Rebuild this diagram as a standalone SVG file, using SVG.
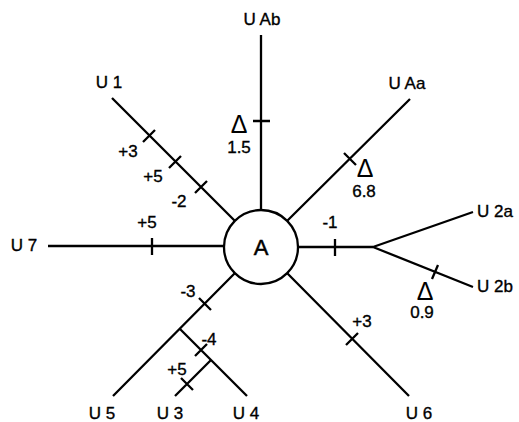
<svg xmlns="http://www.w3.org/2000/svg" width="519" height="422" viewBox="0 0 519 422">
<style>
.ln{stroke:#000;stroke-width:2.3;fill:none;stroke-linecap:butt}
.t{font-family:"Liberation Sans",Arial,sans-serif;font-size:17px;fill:#000;stroke:#000;stroke-width:0.35}
.m{text-anchor:middle}
.d{font-family:"Liberation Sans",Arial,sans-serif;font-size:25px;fill:#000;text-anchor:middle}
</style>
<rect width="519" height="422" fill="#fff"/>
<g id="connectors">
  <path class="ln" d="M261,35V210 M253,121H270"/>
  <path class="ln" d="M287,221L410,99 M344,153L356,165"/>
  <path class="ln" d="M112,98L235,221 M143,142L155,130 M169,168L181,156 M195,193L207,181"/>
  <path class="ln" d="M48,246H224 M152,238V255"/>
  <path class="ln" d="M113,396L235,273 M199,298L211,310"/>
  <path class="ln" d="M180,329L247,396 M195,356L207,344"/>
  <path class="ln" d="M211,360L175,396 M181,378L193,390"/>
  <path class="ln" d="M287,273L409,396 M346,345L358,333"/>
  <path class="ln" d="M298,247H373 M335,239V256"/>
  <path class="ln" d="M373,247L473,212 M373,247L473,287 M432,279L438,265"/>
  <text class="t m" x="128" y="157">+3</text>
  <text class="t m" x="153" y="182">+5</text>
  <text class="t m" x="179" y="207">-2</text>
  <text class="t m" x="147" y="228">+5</text>
  <text class="t m" x="188" y="297">-3</text>
  <text class="t m" x="209" y="345">-4</text>
  <text class="t m" x="177" y="375">+5</text>
  <text class="t m" x="330" y="228">-1</text>
  <text class="t m" x="362" y="327">+3</text>
  <text class="d" x="239" y="133">Δ</text>
  <text class="t m" x="239" y="153">1.5</text>
  <text class="d" x="365" y="177">Δ</text>
  <text class="t m" x="364" y="197">6.8</text>
  <text class="d" x="425" y="300">Δ</text>
  <text class="t m" x="422" y="318">0.9</text>
</g>
<g id="A">
  <circle class="ln" cx="261" cy="247" r="37"/>
  <text x="261" y="255" style="font-family:'Liberation Sans',Arial,sans-serif;font-size:22px;text-anchor:middle;stroke:#000;stroke-width:0.5">A</text>
</g>
<g id="UAb"><text class="t m" x="262" y="25">U Ab</text></g>
<g id="UAa"><text class="t m" x="407" y="89">U Aa</text></g>
<g id="U1"><text class="t m" x="109" y="88">U 1</text></g>
<g id="U7"><text class="t m" x="24" y="251">U 7</text></g>
<g id="U5"><text class="t m" x="102" y="419">U 5</text></g>
<g id="U3"><text class="t m" x="170" y="419">U 3</text></g>
<g id="U4"><text class="t m" x="246" y="419">U 4</text></g>
<g id="U6"><text class="t m" x="419" y="419">U 6</text></g>
<g id="U2a"><text class="t" x="477" y="217">U 2a</text></g>
<g id="U2b"><text class="t" x="477" y="292">U 2b</text></g>
</svg>
